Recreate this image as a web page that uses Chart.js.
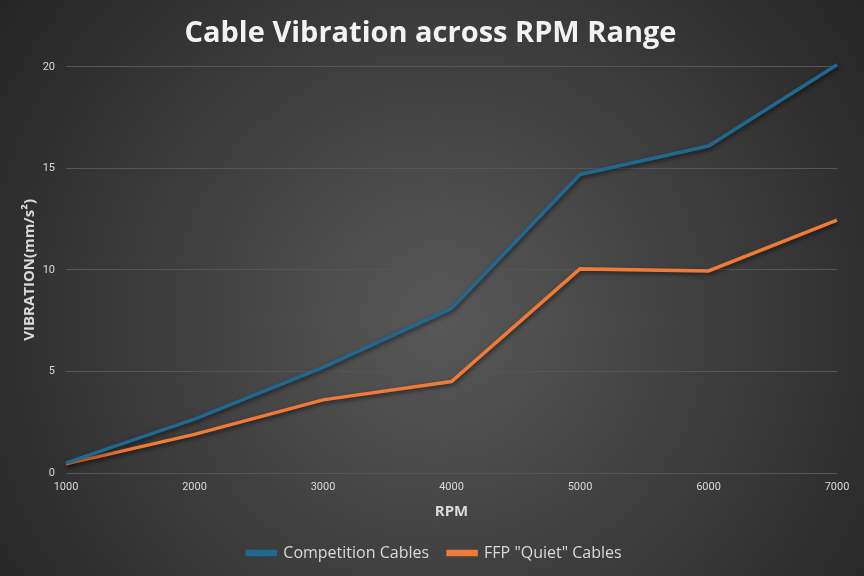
<!DOCTYPE html>
<html>
<head>
<meta charset="utf-8">
<script src="https://cdn.jsdelivr.net/npm/chart.js@4"></script>
<style>
  html, body { margin: 0; padding: 0; background: #2b2b2b; }
  #wrap { width: 864px; height: 576px; }
</style>
</head>
<body>
<div id="wrap"><canvas id="vibrationChart"></canvas></div>
<script>
const rpmLabels = ['1000', '2000', '3000', '4000', '5000', '6000', '7000'];
const competitionValues = [0.5, 2.65, 5.2, 8.1, 14.7, 16.1, 20.1];
const quietValues = [0.45, 1.9, 3.6, 4.5, 10.05, 9.95, 12.45];
const yTicks = [0, 5, 10, 15, 20];

const textColor = '#d9d9d9';

// dark radial backdrop, lighter toward the middle
const backdrop = {
    id: 'backdrop',
    beforeDraw(chart) {
        const c = chart.ctx;
        const w = chart.width, h = chart.height;
        const g = c.createRadialGradient(440, 320, 0, 440, 320, 560);
        g.addColorStop(0, '#585858');
        g.addColorStop(1, '#232323');
        c.save();
        c.fillStyle = g;
        c.fillRect(0, 0, w, h);
        c.restore();
    }
};

// soft drop shadow under the lines
const lineShadow = {
    id: 'lineShadow',
    beforeDatasetDraw(chart) {
        const c = chart.ctx;
        c.save();
        c.shadowColor = 'rgba(0,0,0,0.55)';
        c.shadowBlur = 4;
        c.shadowOffsetX = 1;
        c.shadowOffsetY = 2;
    },
    afterDatasetDraw(chart) {
        chart.ctx.restore();
    }
};

// title and legend sit centred on the whole picture, not just the area left of the right padding
const centreShift = {
    id: 'centreShift',
    afterLayout(chart) {
        chart.legend.left += 16;
        chart.legend.right += 16;
        chart.titleBlock.left += 12;
        chart.titleBlock.right += 12;
    }
};

const ctx = document.getElementById('vibrationChart').getContext('2d');

new Chart(ctx, {
    type: 'line',
    data: {
        labels: rpmLabels,
        datasets: [{
            label: 'Competition Cables',
            data: competitionValues,
            borderColor: '#21688f',
            backgroundColor: '#21688f',
            borderWidth: 3.5,
            pointRadius: 0,
            tension: 0,
            clip: false
        }, {
            label: 'FFP "Quiet" Cables',
            data: quietValues,
            borderColor: '#f07a37',
            backgroundColor: '#f07a37',
            borderWidth: 3.5,
            pointRadius: 0,
            tension: 0,
            clip: false
        }]
    },
    options: {
        responsive: true,
        maintainAspectRatio: false,
        animation: false,
        layout: {
            padding: { top: 0, left: 0, right: 27, bottom: 5 }
        },
        plugins: {
            title: {
                display: true,
                text: 'Cable Vibration across RPM Range',
                color: '#f2f2f2',
                font: { family: 'Open Sans', size: 29, weight: 'bold' },
                padding: { top: 16, bottom: 16 }
            },
            legend: {
                display: true,
                position: 'bottom',
                labels: {
                    color: textColor,
                    font: { family: 'Open Sans', size: 16 },
                    boxWidth: 28,
                    boxHeight: 3,
                    padding: 19
                }
            },
            tooltip: { enabled: false }
        },
        scales: {
            x: {
                offset: false,
                grid: { display: false, drawTicks: false },
                border: { display: false },
                ticks: {
                    color: textColor,
                    font: { family: 'Roboto', size: 11 },
                    padding: 8,
                    maxRotation: 0
                },
                title: {
                    display: true,
                    text: 'RPM',
                    color: textColor,
                    font: { family: 'Open Sans', size: 15, weight: 'bold' },
                    padding: { top: 0, bottom: 5 }
                },
                afterFit(scale) { scale.height = 53; }
            },
            y: {
                min: 0,
                max: 20,
                afterBuildTicks(scale) {
                    scale.ticks = yTicks.map(v => ({ value: v }));
                },
                grid: { color: '#555555', lineWidth: 1, drawTicks: false },
                border: { display: false },
                ticks: {
                    color: textColor,
                    font: { family: 'Roboto', size: 11 },
                    padding: 11
                },
                title: {
                    display: true,
                    text: 'VIBRATION(mm/s²)',
                    color: textColor,
                    font: { family: 'Open Sans', size: 15, weight: 'bold' },
                    padding: { top: 21, bottom: 0 }
                },
                afterFit(scale) { scale.width = 66; }
            }
        }
    },
    plugins: [backdrop, lineShadow, centreShift]
});
</script>
</body>
</html>
